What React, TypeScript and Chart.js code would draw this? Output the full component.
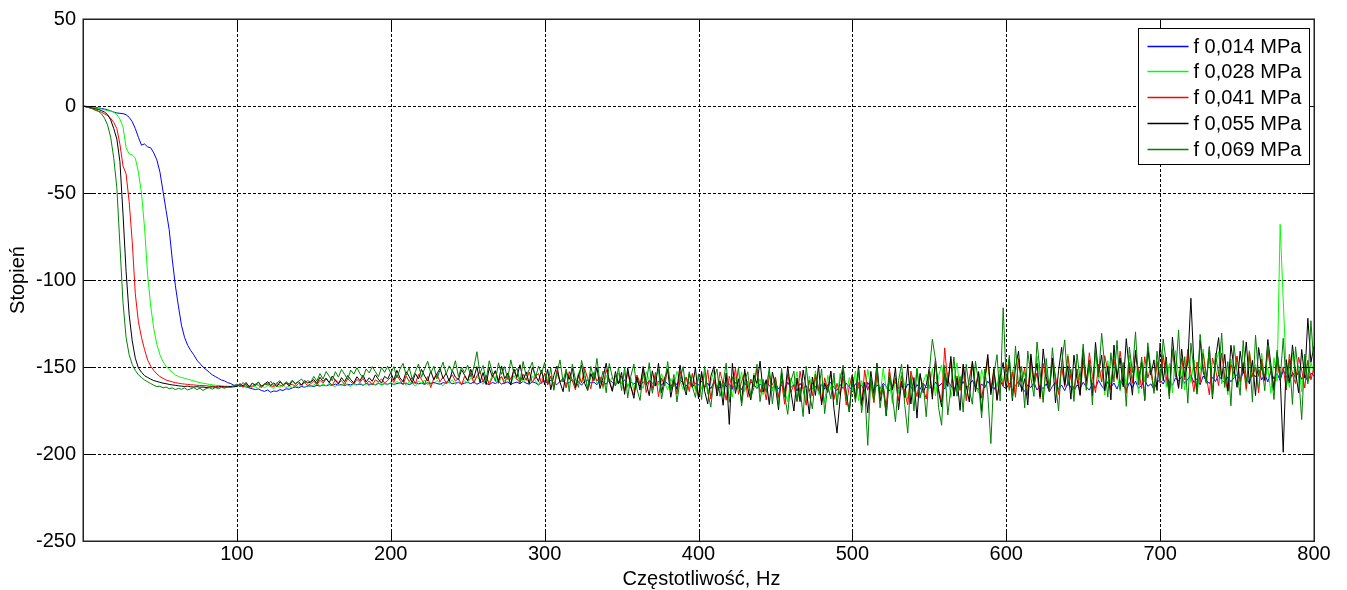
import React, { useEffect, useRef } from "react";
import { Chart, registerables } from "chart.js";

Chart.register(...registerables);

// Frequency grid of the measurement (Hz): 0 .. 800, every 2 Hz
const FREQ_STEP_HZ = 2;
const FREQ_COUNT = 401;
const freqHz: number[] = Array.from({ length: FREQ_COUNT }, (_, i) => i * FREQ_STEP_HZ);

const X_TICKS = [0, 100, 200, 300, 400, 500, 600, 700, 800];
const Y_TICKS = [-250, -200, -150, -100, -50, 0, 50];

const SERIES_LABELS = ["f 0,014 MPa", "f 0,028 MPa", "f 0,041 MPa", "f 0,055 MPa", "f 0,069 MPa"];
const SERIES_COLORS = ["#0000ff", "#00ff00", "#ff0000", "#000000", "#008000"];

const X_TITLE = "Częstotliwość, Hz";
const Y_TITLE = "Stopień";

// phase (deg), f = 0,014 MPa
const phase014 = [
  0,-0.2,-0.4,-0.6,-0.8,-1.1,-1.4,-1.8,-2.2,-2.8,
  -3.5,-4,-4.2,-4.4,-5,-6.5,-9,-13,-18,-22.5,
  -21.8,-23.5,-24,-27,-31,-38,-49,-60,-71,-88,
  -103,-115,-126,-133,-137.5,-140.5,-143,-146,-148,-150,
  -151.5,-153,-154.5,-155.5,-156.5,-157.5,-158,-159,-159.5,-160.5,
  -160.5,-161,-160.8,-161.5,-162,-162.5,-163,-162.6,-163.5,-164,-163.2,-164.5,-163.8,-164,-163,-163.5,-162.5,-162.8,-162,-161.5,-162,-161.2,-161.6,-161,-160.8,
  -161.2,-160.5,-161,-160.3,-160.8,-160.2,-160.6,-159.8,-160.4,-160,-160.7,-159.9,-160.3,-159.6,-160.2,-159.8,-160.5,-159.5,-160,-159.7,-160.3,-159.4,-160.1,-159.6,-159.9,
  -159.3,-160,-159.5,-159.1,-159.8,-159.2,-160.1,-159.4,-158.9,-159.7,-159.3,-160,-159.1,-159.6,-158.8,-159.5,-159.9,-159,-159.4,-158.7,-159.6,-159.2,-158.9,-159.8,-159.3,
  -158.8,-159.6,-158.5,-159.9,-159,-158.3,-159.4,-160.2,-158.9,-159.5,-158.4,-159.8,-159.1,-158.6,-160,-159.2,-158.7,-159.6,-158.2,-159.3,-159.9,-158.5,-159.1,-160.3,-158.8,
  -158,-159.5,-157.6,-159.2,-160.1,-158.3,-157.8,-159.6,-158.9,-157.2,-159.8,-158.4,-160.5,-158.1,-157.5,-159.3,-158.7,-160.2,-157.9,-158.6,-159.9,-157.4,-158.8,-160.4,-158.2,
  -159.5,-157.3,-160.8,-158.6,-159.9,-157.8,-161.2,-158.4,-160.3,-157.6,-159.1,-161,-158.2,-160.5,-157.9,-159.7,-161.3,-158.5,-160.1,-157.4,-159.3,-160.9,-158.8,-161.5,-159.2,
  -160.4,-158,-161.8,-159.3,-162.5,-158.7,-160.9,-162,-158.4,-161.3,-159.6,-162.8,-158.9,-160.6,-163,-159.2,-161.7,-158.5,-160.2,-162.4,-159.8,-161.1,-157.9,-160.8,-162.2,
  -159.5,-162.6,-160.3,-163.4,-158.8,-161.9,-160.1,-163.8,-159.4,-162.2,-160.7,-164,-159.1,-161.5,-163.1,-159.8,-162.7,-160.4,-158.9,-161.8,-163.5,-160,-162.4,-159.3,-161.6,
  -163.2,-159.6,-162,-160.4,-164.1,-158.9,-161.7,-163.6,-160.2,-162.5,-159.4,-161.1,-163.8,-160.6,-158.7,-162.3,-160.9,-163.5,-159.8,-161.4,-164,-160.1,-162.8,-159.2,-161.9,
  -160.5,-163.4,-158.6,-161.2,-159.4,-162.7,-157.9,-160.8,-163.1,-159.1,-161.6,-158.3,-162.2,-160,-157.6,-161.5,-163,-159.7,-161.9,-158.2,-160.7,-162.9,-159.5,-157.8,-161.3,
  -162.4,-159.3,-163.5,-160.6,-158.4,-162.1,-164,-160.2,-161.8,-158.9,-163.2,-160.7,-162.5,-159.6,-164.3,-161.1,-158.7,-162.8,-160.4,-163.6,-159.1,-161.7,-163.9,-160.3,-162.2,
  -158.8,-161.4,-163.3,-159.5,-162,-157.6,-160.9,-163.1,-158.4,-161.6,-159.2,-162.7,-157.9,-160.3,-163.5,-159,-161.8,-158.1,-162.4,-160.6,-157.5,-161.1,-159.7,-162.9,-158.6,
  -157.4,-159.8,-155.9,-158.6,-160.5,-156.3,-158.1,-155.5,-159.4,-157,-154.8,-158.9,-156.6,-160.2,-155.2,-157.7,-159.5,-156,-158.3,-154.6,-157.4,-159.1,-155.7,-158.5,-156.2,
  -154.3,-158.1,-152.9,-156.6,-159.2,-153.5,-155.8,-151.7,-157.4,-154.1,-158.6,-152.4,-156.9,-153.8,-157.7,-151.9,-155.3,-158.9,-153.1,-156.2,-152.6,-157.1,-154.5,-158.3,-153.7,
  -155,
];

// phase (deg), f = 0,028 MPa
const phase028 = [
  0,-0.2,-0.5,-0.8,-1.1,-1.4,-1.8,-2.2,-2.6,-3,
  -3.5,-5,-7.5,-12,-24,-27.5,-28,-30,-38,-50,
  -70,-97,-115,-128,-137,-143,-147,-149.5,-151.5,-153,
  -154.5,-155.5,-156,-156.5,-157,-157.5,-158,-158.5,-159,-159.3,
  -159.6,-160,-160.2,-160.5,-160.6,-160.8,-161,-161,-161.2,-161,
  -161.2,-160.4,-161.8,-160.9,-162.1,-160.6,-161.5,-162.3,-160.8,-161.9,-160.5,-161.3,-162.4,-160.7,-161.6,-160.2,-161.9,-160.9,-162,-160.4,-161.4,-160.1,-161.7,-160.6,-161.2,
  -160.3,-159.2,-161,-159.8,-160.9,-159.4,-160.6,-161.3,-159.6,-160.8,-159.1,-160.4,-161.2,-159.7,-160.5,-158.9,-160.7,-159.5,-161,-159.3,-160.2,-158.8,-160.6,-159.4,-160.1,
  -158.7,-160.4,-158.2,-159.8,-157.9,-160.6,-158.5,-159.3,-161,-158,-159.6,-157.5,-160.2,-158.8,-159.9,-157.7,-159.4,-160.8,-158.3,-159.1,-157.4,-160,-158.6,-159.7,-157.9,
  -159.2,-156.1,-158.4,-155.3,-157.8,-160,-156.5,-158.9,-154.8,-157.3,-159.6,-155.7,-158.1,-156.4,-159.8,-154.9,-157.6,-155.9,-158.7,-156.2,-159.3,-155.1,-157.9,-160.2,-156.6,
  -154.2,-159.8,-155.6,-161.3,-153.9,-158.2,-156.7,-162,-154.5,-157.4,-160.6,-153.2,-158.9,-155.1,-161.7,-156.3,-152.8,-159.4,-157.2,-162.5,-154.8,-158.6,-155.9,-160.8,-153.6,
  -159.7,-153.4,-161.8,-156.2,-163.5,-154.9,-158.8,-162.4,-152.7,-157.6,-164,-155.3,-160.5,-153.9,-159.2,-163.1,-156.6,-161.4,-152.5,-158.3,-162.9,-155.8,-160.2,-154.4,-163.6,
  -156.1,-162.8,-153.7,-165.4,-158.6,-151.9,-163.5,-157.2,-166.8,-154.4,-160.9,-167.3,-155.6,-162.4,-152.8,-164.1,-158,-167.7,-153.5,-161.6,-156.8,-165.9,-159.3,-152.4,-163.8,
  -157.4,-168.2,-154.1,-163.9,-170.1,-156.3,-161.5,-152.7,-166.4,-158.9,-169.6,-155.2,-162.8,-152.2,-165.7,-159.6,-170.4,-154.8,-163.1,-157.5,-168.9,-153.6,-161.9,-166.2,-156,
  -163.7,-152.3,-169.2,-157.8,-164.6,-151.4,-161.2,-170.3,-155.6,-166.9,-150.8,-162.5,-158.1,-171,-154.7,-165.3,-152.9,-160.4,-168.6,-156.2,-163.9,-150.5,-167.4,-158.8,-154.1,
  -162.6,-150.9,-166.7,-155.4,-148.8,-161.9,-153.2,-167.5,-157.9,-147.6,-163.3,-152.1,-168.2,-156.8,-149.7,-160.4,-165.1,-151.5,-158.6,-146.9,-164.8,-154.3,-161.7,-150.2,-159.5,
  -147.3,-163.8,-151.6,-166.2,-144.9,-158.7,-153.2,-167.9,-149.1,-161.4,-143.8,-156.3,-168.5,-150.7,-162.8,-146.2,-157.9,-165.4,-148.6,-159.3,-142.7,-155.8,-164.9,-151.2,-160.6,
  -145.1,-161.9,-149.8,-164.6,-142.3,-157.2,-151.5,-166.1,-146.4,-159.8,-141.6,-154.3,-163.7,-148.9,-160.5,-143.2,-156.6,-149.3,-165.2,-145.7,-158.4,-140.9,-153.1,-162.3,-147.6,
  -156.8,-142.4,-161.5,-147.9,-164.8,-140.6,-155.2,-149.7,-163.3,-143.5,-158.9,-146.1,-165.6,-151.8,-139.7,-157.4,-144.8,-162.1,-148.3,-141.2,-159.7,-153.6,-166,-145.4,-156.2,
  -143.9,-160.4,-147.2,-163.7,-140.5,-155.8,-148.6,-162.9,-142.1,-157.3,-150.4,-165.1,-144.6,-158.2,-68,-112,-152.7,-161.8,-141.8,-156.5,-149.1,-164.2,-143.7,-158.6,-147.5,
  -153,
];

// phase (deg), f = 0,041 MPa
const phase041 = [
  0,-0.5,-1,-1.5,-2.5,-3,-3.5,-4.5,-5.5,-7,
  -9.5,-13,-22,-34.5,-39,-55,-78,-108,-124,-133,
  -140,-146,-149.5,-152,-154,-155.5,-156.5,-157.5,-158,-158.5,
  -159,-159.3,-159.6,-159.8,-160,-160.2,-160.3,-160.5,-160.6,-160.7,
  -160.8,-161,-161,-161.2,-161,-161.3,-161.2,-161.5,-161.3,-161.5,
  -161,-160.2,-161.5,-159.8,-160.9,-161.6,-159.7,-160.5,-161.8,-160.1,-159.4,-160.8,-161.3,-159.6,-160.4,-161.1,-159.2,-160.6,-159.9,-161.2,-159.5,-160.3,-158.9,-160.7,-159.6,
  -158.1,-160.2,-157.6,-159.4,-156.9,-158.8,-160.5,-157.3,-159.1,-157.8,-160.1,-156.7,-158.6,-159.7,-157.1,-158.9,-156.5,-159.8,-158,-160.3,-157.4,-158.5,-156.8,-159.2,-157.7,
  -155.8,-158.9,-154.6,-157.7,-160.1,-155.2,-158.3,-156.1,-159.6,-154.3,-157.2,-159.9,-155.5,-161.8,-156.4,-153.9,-158.6,-155.7,-159.3,-157,-154.5,-158.1,-156.6,-160.4,-155.3,
  -157.9,-153.2,-159.4,-155.1,-152.6,-158.3,-154.7,-160.2,-156.1,-152.3,-157.6,-155.4,-159.8,-153.5,-157.2,-151.8,-156.9,-159.1,-154.2,-157.7,-152.9,-158.8,-155.6,-153.7,-159.5,
  -153.6,-160.4,-155.1,-162.3,-151.9,-158.7,-156.2,-161.8,-152.6,-157.9,-163.1,-154.3,-159.2,-150.8,-156.7,-162.5,-153.4,-158.1,-155.7,-161.2,-151.5,-157.3,-163.6,-154.9,-159.7,
  -155.2,-163.8,-152.7,-161.4,-166.2,-154.6,-159.9,-151.3,-164.7,-157.8,-162.3,-153.1,-167,-156.4,-160.8,-150.9,-163.2,-157.1,-165.5,-152.4,-160.2,-155.8,-164.1,-153.7,-161.6,
  -166.8,-154.2,-162.5,-151.6,-168.3,-157.4,-163.9,-152.8,-159.6,-169.1,-155.3,-162.1,-150.7,-165.7,-158.2,-153.6,-167.4,-156.9,-161.3,-151.2,-164.6,-158.7,-168.9,-154.8,-160.4,
  -155.7,-167.2,-158.3,-171.4,-153.9,-164.6,-160.1,-169.8,-152.4,-163.2,-172,-157.6,-166.5,-154.1,-161.9,-170.3,-156.2,-164,-152.8,-168.7,-159.4,-165.9,-155.3,-171.8,-161.2,
  -154.4,-168.6,-158.9,-172.2,-151.7,-163.4,-157.1,-170.5,-153.6,-165.8,-160.2,-173.1,-150.9,-162.7,-156.4,-169.3,-155,-164.9,-171.7,-152.3,-159.8,-167,-154.8,-162.1,-168.4,
  -151.3,-165.7,-147.8,-162.4,-170.1,-139,-159.2,-145.6,-166.8,-155.1,-163.5,-149.2,-169.4,-156.7,-146.9,-161.8,-152.4,-167.9,-157.3,-144.8,-163.9,-150.6,-168.6,-154.2,-160.9,
  -148.6,-163.2,-152.9,-167.4,-145.3,-158.1,-150.7,-166,-144.2,-160.5,-153.4,-168.3,-147.9,-157.6,-163.9,-146.1,-155.2,-165.8,-149.5,-161.3,-143.7,-156.9,-162.7,-151.1,-166.5,
  -146.2,-160.9,-141.8,-155.4,-164.7,-148.3,-158.6,-143.5,-152.7,-163.2,-145.6,-157.1,-140.9,-154.8,-165.1,-147.4,-159.3,-142.6,-151.9,-162.4,-144.1,-156.3,-149.7,-163.8,-146.8,
  -159.2,-143.4,-155.7,-165.3,-140.6,-150.8,-161.9,-145.2,-157.4,-139.8,-153.6,-164.2,-147.1,-158.9,-142.3,-155.1,-166,-144.8,-151.5,-160.7,-141.9,-156.2,-163.4,-148.6,-154,
  -143.7,-158.4,-147.9,-162.6,-141.2,-155.3,-150.1,-164.8,-145.5,-157.9,-140.4,-153.2,-161.4,-146.8,-156.7,-149.9,-163.2,-142.7,-154.6,-159.5,-144.3,-151.8,-162.1,-146.1,-157.4,
  -150,
];

// phase (deg), f = 0,055 MPa
const phase055 = [
  0,-0.4,-0.8,-1.2,-1.6,-2,-2.6,-3.5,-5,-8,
  -13,-19,-32,-62,-95,-120,-135,-145,-150.5,-153,
  -155,-156,-157,-157.8,-158.3,-158.8,-159.3,-159.6,-160,-160.3,
  -160.5,-160.8,-161,-161.2,-161,-161.4,-161.5,-161.3,-161.6,-161.5,
  -161.8,-161.6,-161.4,-161.7,-161.5,-161.3,-161.6,-161.4,-161.2,-161,
  -161.2,-159.6,-160.8,-158.9,-161.5,-159.3,-160.4,-158.7,-161,-159.8,-158.4,-160.6,-159.1,-161.3,-158.5,-160.2,-158.9,-160.9,-157.9,-159.6,-158.3,-160.4,-157.8,-159.2,-158.6,
  -157.2,-159.4,-155.9,-158.3,-156.4,-159,-155.2,-157.7,-159.8,-156.1,-158.5,-154.9,-157.3,-159.1,-155.6,-157.9,-154.7,-158.6,-156.2,-158.2,-154.5,-157.1,-159.3,-155.4,-156.8,
  -153.2,-157.6,-151.9,-156.3,-158.4,-152.7,-155.5,-159,-153.8,-156.9,-151.4,-155.2,-158.1,-152.3,-157.4,-154,-150.8,-156.6,-153.5,-158.3,-152.1,-155.8,-157.3,-151.6,-154.7,
  -157.9,-151.3,-156.4,-149.8,-158.7,-153.2,-160.1,-150.6,-155.4,-152.1,-158.9,-149.4,-156.7,-153.6,-160.4,-151.1,-155.9,-148.7,-157.5,-152.8,-159.6,-150.2,-154.8,-158.3,-151.7,
  -160.2,-151.4,-163.1,-154.8,-149.5,-158.7,-164.2,-152.3,-157.1,-150.6,-161.8,-155.2,-148.9,-159.4,-163.5,-153.7,-157.9,-150.1,-162.4,-155.9,-147.8,-158.2,-164,-152.6,-159.8,
  -153.1,-165.7,-150.4,-161.2,-168,-155.8,-163.3,-149.7,-158.9,-166.5,-152.2,-160.6,-147.8,-164.9,-156.3,-151.5,-167.4,-157.7,-162.8,-148.9,-159.6,-166.1,-153.9,-161.8,-150.3,
  -168.4,-152.6,-163.9,-171.2,-155.3,-149.8,-166.7,-158.1,-172,-153.4,-183,-147.9,-165.2,-156.8,-170.5,-151.2,-162.4,-168.9,-154.7,-159.5,-146.6,-164.3,-157.3,-171.6,-152.9,
  -160.8,-174.6,-153.1,-167.2,-149.5,-163.8,-175.3,-156.4,-169.9,-151.7,-162.5,-177,-155.8,-166.3,-148.9,-171.8,-159.2,-164.6,-152.3,-173.7,-188,-168.4,-150.2,-165.1,-175.9,
  -154.6,-168.1,-149.2,-171.9,-158.8,-176.3,-152.5,-165.4,-147.8,-169.6,-161.1,-178.2,-155.9,-163.3,-150.4,-174.5,-158.2,-167.7,-148.6,-171.3,-156.1,-179.4,-153.7,-164.8,-160.3,
  -150.7,-168.5,-145.2,-163.9,-172.8,-153.6,-161.2,-143.9,-166.7,-156.5,-174.9,-148.3,-160.8,-170.1,-146.7,-164.2,-152.9,-175.5,-157.4,-142.8,-165.9,-151.3,-169.2,-155.8,-147.4,
  -162.8,-145.6,-169.4,-150.2,-140.9,-164.1,-156.7,-171.8,-142.5,-158.3,-147.9,-167.2,-139.6,-155.4,-163.7,-144.8,-170.6,-152.1,-138.7,-160.4,-149.3,-168.5,-143.2,-157.1,-165.9,
  -139.4,-158.2,-146.7,-166.5,-135.9,-153.8,-143.1,-163.7,-149.6,-168.9,-137.4,-156.1,-144.8,-161.3,-133.7,-151.9,-166.2,-140.5,-157.4,-147.2,-169.3,-138.6,-154.7,-145.9,-163.5,
  -136.2,-157.9,-144.3,-166.7,-132.8,-151.4,-162.3,-139.7,-155.6,-147.1,-110.5,-149.8,-164.1,-134.6,-152.9,-158.7,-138.3,-168.2,-145.4,-133.1,-156.8,-142.7,-163.9,-137.5,-150.6,
  -161.7,-140.9,-153.4,-135.6,-159.8,-146.2,-166.4,-138.8,-151.1,-157.6,-134.2,-148.7,-163.5,-141.6,-155.2,-199,-145.8,-159.1,-137.3,-152.6,-164.8,-139.9,-156.4,-122,-147.3,
  -138,
];

// phase (deg), f = 0,069 MPa
const phase069 = [
  0,-0.5,-1,-1.5,-2,-3,-4.5,-7,-11,-18,
  -30,-47,-80,-113,-133,-143,-148.5,-152,-154.5,-156,
  -157.5,-158.5,-159.5,-160.5,-161.3,-161,-162,-161.5,-162.5,-162,
  -163,-162.3,-162.8,-162,-163.2,-162.5,-161.8,-163,-162.2,-163.5,
  -162.4,-161.9,-162.7,-161.8,-162.5,-161.7,-162.2,-161.4,-161.8,-161,
  -159.8,-161.4,-158.9,-160.7,-162,-159.3,-160.9,-158.6,-161.6,-159.5,-160.3,-158.2,-160.8,-159.1,-157.9,-160.4,-158.5,-159.7,-157.6,-159.9,-158.3,-156.9,-159.2,-157.8,-158.7,
  -155.4,-158.1,-153.8,-156.9,-152.6,-155.3,-157.9,-152.7,-155.8,-151.4,-154.2,-157.1,-151.8,-154.1,-150.4,-153.9,-156.2,-151.1,-153.4,-149.8,-152.7,-155.6,-150.3,-153.1,-149.5,
  -153.7,-149.8,-156.3,-151.2,-147.9,-154.8,-150.4,-157.2,-152.6,-148.3,-155.9,-150.9,-146.7,-153.4,-149.6,-156.8,-151.8,-147.2,-154.1,-149.3,-152.7,-146.4,-155.5,-150.1,-153.2,
  -148.9,-155.6,-150.3,-141.2,-153.8,-149.1,-157.7,-146.4,-152.9,-158.3,-147.6,-154.2,-149.8,-157.1,-145.9,-153.5,-150.7,-158.9,-146.8,-155.3,-151.4,-147.2,-156.6,-149.5,-153.9,
  -147.3,-159.8,-150.6,-163.4,-153.2,-145.9,-158.7,-151.1,-164.2,-148.4,-156.9,-161.7,-146.2,-153.5,-162.9,-149.7,-157.3,-145.1,-159.6,-152.4,-164.8,-148,-155.7,-160.9,-150.2,
  -163.5,-150.1,-167.8,-155.4,-148.3,-162.7,-169.2,-153.6,-159.9,-147.5,-165.1,-156.2,-151.4,-168.4,-158.8,-146.9,-163.9,-154.3,-170.1,-157.6,-149.8,-164.7,-152.7,-161.3,-167.5,
  -153.9,-168.7,-149.6,-164.2,-173.1,-156.8,-151.2,-166.9,-159.4,-147.8,-170.3,-155.6,-163.1,-149.9,-172.4,-158.3,-152.7,-167.6,-161.8,-148.4,-169.9,-157.1,-164.6,-150.5,-171.2,
  -156.3,-172.7,-150.8,-166.4,-177.2,-158.1,-152.4,-169.8,-161.7,-178.5,-149.6,-165.3,-174.1,-155.7,-163.9,-151.1,-176.8,-160.2,-168.3,-153.5,-171.9,-157.4,-148.9,-167.1,-175.6,
  -158.2,-170.3,-151.6,-176.4,-162.8,-195,-155.4,-168.7,-149.2,-173.5,-160.6,-177.8,-153.1,-166.2,-181.4,-157.9,-148.3,-171.6,-188,-154.7,-175.2,-150.9,-167.9,-159.3,-178.6,
  -152.4,-134,-145.6,-173.2,-183.5,-149.1,-177.6,-162.3,-144.2,-166.8,-155.4,-175.9,-148.5,-163.1,-171.4,-146.7,-158.9,-179.3,-151.2,-165.7,-194,-153.8,-142.9,-169.5,-116,
  -158.6,-143.2,-168.1,-137.9,-161.4,-149.7,-173.5,-140.8,-156.2,-166.9,-135.6,-152.8,-170.4,-145.1,-163.7,-138.9,-158.3,-175.2,-147.6,-134.4,-160.9,-151.3,-169.8,-142.5,-157.4,
  -136.8,-163.4,-145.9,-171.8,-139.2,-155.7,-130.6,-149.1,-167.3,-141.8,-158.6,-134.7,-162.9,-147.4,-172.6,-138.5,-153.2,-129.8,-160.4,-144.3,-168.9,-136.1,-151.7,-165.2,-140.9,
  -158.1,-133.9,-147.6,-168.4,-139.5,-155.9,-128.7,-162.7,-144.1,-170.8,-136.3,-152.5,-165.6,-131.2,-149.8,-159.4,-138.7,-167.1,-142.2,-154.4,-130.5,-161.8,-146.9,-172.3,-137.6,
  -152.7,-166.3,-134.8,-158.9,-143.5,-170.2,-131.6,-155.4,-147.8,-163.6,-137.2,-151.9,-168.7,-140.3,-157.1,-133.5,-161.4,-145.6,-171.5,-138.4,-154.8,-180.2,-142.6,-159.7,-123.4,
  -150,
];

const SERIES_VALUES = [phase014, phase028, phase041, phase055, phase069];

const FONT_FAMILY = '"Liberation Sans", Arial, Helvetica, sans-serif';
const FONT_SIZE = 20;

const matlabAxesPlugin = {
  id: "matlabAxes",
  beforeDatasetsDraw(chart: any) {
    const { ctx, chartArea: a, scales } = chart;
    const xs = scales.x;
    const ys = scales.y;
    ctx.save();
    ctx.strokeStyle = "#000";
    ctx.lineWidth = 1;
    ctx.setLineDash([3, 2]);
    ctx.beginPath();
    for (const v of X_TICKS) {
      const px = Math.round(xs.getPixelForValue(v)) + 0.5;
      ctx.moveTo(px, a.top);
      ctx.lineTo(px, a.bottom);
    }
    for (const v of Y_TICKS) {
      const py = Math.round(ys.getPixelForValue(v)) + 0.5;
      ctx.moveTo(a.left, py);
      ctx.lineTo(a.right, py);
    }
    ctx.stroke();
    ctx.restore();
  },
  afterDatasetsDraw(chart: any) {
    const { ctx, chartArea: a, scales } = chart;
    const xs = scales.x;
    const ys = scales.y;
    const tick = 12;
    ctx.save();
    ctx.setLineDash([]);
    ctx.strokeStyle = "#000";
    ctx.lineWidth = 1;
    ctx.beginPath();
    for (const v of X_TICKS) {
      const px = Math.round(xs.getPixelForValue(v)) + 0.5;
      ctx.moveTo(px, a.bottom);
      ctx.lineTo(px, a.bottom - tick);
      ctx.moveTo(px, a.top);
      ctx.lineTo(px, a.top + tick);
    }
    for (const v of Y_TICKS) {
      const py = Math.round(ys.getPixelForValue(v)) + 0.5;
      ctx.moveTo(a.left, py);
      ctx.lineTo(a.left + tick, py);
      ctx.moveTo(a.right, py);
      ctx.lineTo(a.right - tick, py);
    }
    ctx.stroke();
    ctx.lineWidth = 1.5;
    ctx.strokeStyle = "#222";
    ctx.strokeRect(Math.round(a.left) + 0.25, Math.round(a.top) + 0.25, Math.round(a.right - a.left), Math.round(a.bottom - a.top));
    ctx.restore();
  },
  afterDraw(chart: any) {
    const { ctx, chartArea: a } = chart;
    ctx.save();
    // axis titles
    ctx.fillStyle = "#000";
    ctx.font = `${FONT_SIZE}px ${FONT_FAMILY}`;
    ctx.textAlign = "center";
    ctx.textBaseline = "alphabetic";
    ctx.fillText(X_TITLE, (a.left + a.right) / 2 + 3, a.bottom + 44);
    ctx.save();
    ctx.translate(16, (a.top + a.bottom) / 2);
    ctx.rotate(-Math.PI / 2);
    ctx.textBaseline = "alphabetic";
    ctx.fillText(Y_TITLE, 0, 0);
    ctx.restore();

    // legend box
    const boxW = 171;
    const boxH = 136;
    const bx = Math.round(a.right - 5 - boxW) + 0.5;
    const by = Math.round(a.top + 9) + 0.5;
    ctx.fillStyle = "#fff";
    ctx.fillRect(bx, by, boxW, boxH);
    ctx.strokeStyle = "#000";
    ctx.lineWidth = 1;
    ctx.setLineDash([]);
    ctx.strokeRect(bx, by, boxW, boxH);
    ctx.textAlign = "left";
    ctx.textBaseline = "middle";
    SERIES_LABELS.forEach((label, i) => {
      const ry = Math.round(by + 17 + i * 25.8) + 0.5;
      ctx.strokeStyle = SERIES_COLORS[i];
      ctx.lineWidth = 1.5;
      ctx.beginPath();
      ctx.moveTo(bx + 9, ry);
      ctx.lineTo(bx + 50, ry);
      ctx.stroke();
      ctx.fillStyle = "#000";
      ctx.fillText(label, bx + 55, ry + 1);
    });
    ctx.restore();
  },
};

export default function App() {
  const canvasRef = useRef<HTMLCanvasElement | null>(null);

  useEffect(() => {
    const canvas = canvasRef.current;
    if (!canvas) return;
    const datasets = SERIES_LABELS.map((label, s) => ({
      label,
      data: freqHz.map((f, i) => ({ x: f, y: SERIES_VALUES[s][i] })),
      borderColor: SERIES_COLORS[s],
      backgroundColor: SERIES_COLORS[s],
      borderWidth: 1,
      pointRadius: 0,
      tension: 0,
      fill: false,
      order: SERIES_LABELS.length - 1 - s,
    }));

    const chart = new Chart(canvas, {
      type: "line",
      data: { datasets },
      options: {
        animation: false,
        responsive: false,
        devicePixelRatio: 1,
        events: [],
        layout: { padding: { top: 11, right: 25, left: 0, bottom: 0 } },
        plugins: {
          legend: { display: false },
          tooltip: { enabled: false },
        },
        scales: {
          x: {
            type: "linear",
            min: 0,
            max: 800,
            afterFit: (scale: any) => {
              scale.height = 49;
              scale.paddingLeft = 0;
              scale.paddingRight = 0;
            },
            afterBuildTicks: (scale: any) => {
              scale.ticks = X_TICKS.map((v) => ({ value: v }));
            },
            ticks: {
              color: "#000",
              font: { family: FONT_FAMILY, size: FONT_SIZE },
              padding: 1,
              maxRotation: 0,
              autoSkip: false,
              callback: (v: any) => (Number(v) === 0 ? "" : String(v)),
            },
            grid: { display: false, drawTicks: false, tickLength: 0 },
            border: { display: false },
          },
          y: {
            type: "linear",
            min: -250,
            max: 50,
            afterFit: (scale: any) => {
              scale.width = 75;
              scale.paddingTop = 0;
              scale.paddingBottom = 0;
            },
            afterBuildTicks: (scale: any) => {
              scale.ticks = Y_TICKS.map((v) => ({ value: v }));
            },
            ticks: {
              color: "#000",
              font: { family: FONT_FAMILY, size: FONT_SIZE },
              padding: 7,
              autoSkip: false,
              callback: (v: any) => String(v),
            },
            grid: { display: false, drawTicks: false, tickLength: 0 },
            border: { display: false },
          },
        },
      },
      plugins: [matlabAxesPlugin],
    } as any);

    return () => chart.destroy();
  }, []);

  return (
    <canvas
      ref={canvasRef}
      width={1331}
      height={582}
      style={{ display: "block", width: "1331px", height: "582px" }}
    />
  );
}
